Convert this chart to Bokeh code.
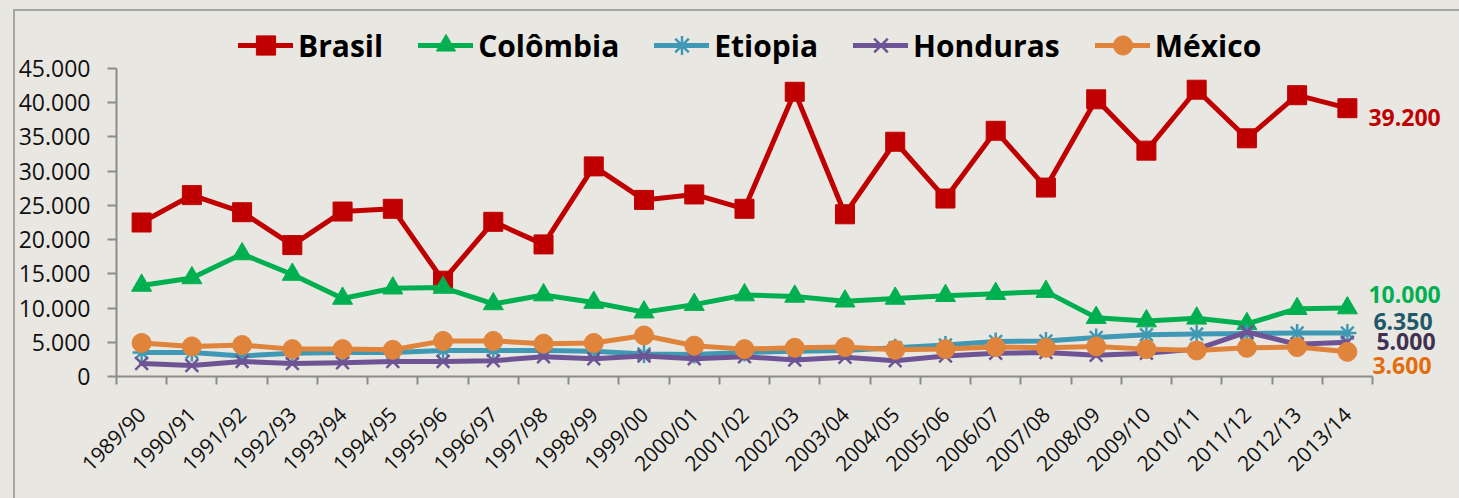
import math
from bokeh.plotting import figure
from bokeh.models import (ColumnDataSource, FixedTicker, Legend, LegendItem, Range1d,
                          LabelSet, GlobalInlineStyleSheet)
from bokeh.embed import file_html
from bokeh.resources import INLINE
from bokeh.core.properties import value

# ---------------- data ----------------
seasons = ["1989/90", "1990/91", "1991/92", "1992/93", "1993/94", "1994/95", "1995/96",
           "1996/97", "1997/98", "1998/99", "1999/00", "2000/01", "2001/02", "2002/03",
           "2003/04", "2004/05", "2005/06", "2006/07", "2007/08", "2008/09", "2009/10",
           "2010/11", "2011/12", "2012/13", "2013/14"]

brasil = [22500, 26500, 24000, 19200, 24100, 24500, 14000, 22600, 19300, 30700, 25800,
          26600, 24500, 41600, 23700, 34300, 26000, 35900, 27600, 40500, 33000, 41900,
          34800, 41100, 39200]
colombia = [13300, 14400, 17900, 14900, 11400, 12900, 13000, 10600, 11900, 10800, 9400,
            10500, 11900, 11700, 11000, 11400, 11800, 12100, 12400, 8600, 8100, 8500,
            7700, 9900, 10000]
etiopia = [3500, 3500, 3000, 3400, 3500, 3500, 3800, 3800, 3800, 3700, 3300, 3200, 3500,
           3700, 3800, 4200, 4600, 5100, 5200, 5700, 6100, 6200, 6300, 6350, 6350]
honduras = [1900, 1600, 2200, 1900, 2000, 2200, 2200, 2300, 2900, 2600, 3000, 2600, 2900,
            2400, 2800, 2300, 3000, 3400, 3500, 3100, 3400, 4000, 6500, 4700, 5000]
mexico = [4900, 4400, 4600, 4000, 4000, 3900, 5200, 5200, 4800, 4900, 6000, 4500, 4000,
          4200, 4300, 3900, 4000, 4300, 4200, 4400, 4000, 3800, 4200, 4300, 3600]

series_names = ["Brasil", "Colômbia", "Etiopia", "Honduras", "México"]
series_values = [brasil, colombia, etiopia, honduras, mexico]

y_ticks = [0, 5000, 10000, 15000, 20000, 25000, 30000, 35000, 40000, 45000]
y_tick_labels = ["0", "5.000", "10.000", "15.000", "20.000", "25.000", "30.000",
                 "35.000", "40.000", "45.000"]

# ---------------- styles ----------------
line_colors = ["#c00000", "#00b050", "#4099b4", "#6e5494", "#e0843c"]
markers = ["square", "triangle", "asterisk", "x", "circle"]
marker_sizes = [19, 20, 18, 18, 19]
label_colors = ["#c00000", "#00b050", "#215868", "#3f3151", "#e46c0a"]
label_xoff = [21, 21, 26, 29, 25]
label_yoff = [-9, 14, 12, 1, -14]

BG = "#e9e7e1"
AX = "#8c8c8c"
FONT = "Open Sans"

W, H = 1459, 498
AXIS_L, AXIS_R = 116, 1372      # axis extent in px
FRAME_R = 1455                  # frame continues right to hold end labels
FRAME_T = 12                    # frame continues up to hold the legend
AXIS_T, AXIS_B = 68, 376        # 45.000 and 0 in px

n = len(seasons)
xs = list(range(n))
y_axis_max = y_ticks[-1]
y_view_max = y_axis_max * (AXIS_B - FRAME_T) / (AXIS_B - AXIS_T)
x_view_max = -0.5 + n * (FRAME_R - AXIS_L) / (AXIS_R - AXIS_L)

p = figure(width=W, height=H, output_backend="svg", toolbar_location=None,
           x_range=Range1d(-0.5, x_view_max), y_range=Range1d(0, y_view_max),
           min_border_left=AXIS_L, min_border_right=W - FRAME_R, min_border_top=FRAME_T,
           min_border_bottom=H - AXIS_B)
p.background_fill_color = BG
p.border_fill_color = BG
p.outline_line_color = None
p.xgrid.visible = False
p.ygrid.visible = False

# y axis
p.yaxis.bounds = (0, y_axis_max)
p.yaxis.ticker = FixedTicker(ticks=y_ticks)
p.yaxis.major_label_overrides = {t: l for t, l in zip(y_ticks, y_tick_labels)}
p.yaxis.major_label_text_font = FONT
p.yaxis.major_label_text_font_size = "23px"
p.yaxis.major_label_text_color = "#111111"
p.yaxis.major_label_standoff = 17
p.yaxis.major_tick_out = 9
p.yaxis.major_tick_in = 0
p.yaxis.minor_tick_line_color = None
p.yaxis.axis_line_color = AX
p.yaxis.axis_line_width = 2
p.yaxis.major_tick_line_color = AX
p.yaxis.major_tick_line_width = 2

# x axis
p.xaxis.bounds = (-0.5, n - 0.5)
p.xaxis.ticker = FixedTicker(ticks=xs, minor_ticks=[i - 0.5 for i in range(n + 1)])
p.xaxis.major_label_overrides = {i: s for i, s in enumerate(seasons)}
p.xaxis.major_label_orientation = math.pi / 4
p.xaxis.major_label_text_font = FONT
p.xaxis.major_label_text_font_size = "21px"
p.xaxis.major_label_text_color = "#111111"
p.xaxis.major_label_standoff = 26
p.xaxis.major_tick_out = 0
p.xaxis.major_tick_in = 0
p.xaxis.minor_tick_out = 8
p.xaxis.minor_tick_in = 0
p.xaxis.minor_tick_line_color = AX
p.xaxis.minor_tick_line_width = 2
p.xaxis.axis_line_color = AX
p.xaxis.axis_line_width = 2

items = []
for name, vals, col, mk, ms in zip(series_names, series_values, line_colors, markers, marker_sizes):
    src = ColumnDataSource(dict(x=xs, y=vals))
    ln = p.line("x", "y", source=src, line_color=col, line_width=5,
                line_join="round", line_cap="round")
    if mk in ("asterisk", "x"):
        sc = p.scatter("x", "y", source=src, marker=mk, size=ms, line_color=col,
                       line_width=2.5, fill_color=col)
    else:
        sc = p.scatter("x", "y", source=src, marker=mk, size=ms, line_color=col,
                       fill_color=col, line_width=1)
    items.append(LegendItem(label=name, renderers=[ln, sc]))

legend = Legend(items=items, orientation="horizontal", location=(122, AXIS_B - 69),
                glyph_width=55, glyph_height=48, label_standoff=5, spacing=35,
                padding=0, margin=0, background_fill_alpha=0, border_line_alpha=0,
                label_text_font=FONT, label_text_font_size="30px",
                label_text_font_style="bold", label_text_color="#000000")
p.add_layout(legend)

# end-of-series data labels
last_vals = [v[-1] for v in series_values]
lab_src = ColumnDataSource(dict(
    x=[n - 1] * len(last_vals), y=last_vals,
    text=[f"{v:,}".replace(",", ".") for v in last_vals],
    color=label_colors, xo=label_xoff, yo=label_yoff))
labels = LabelSet(x="x", y="y", text="text", source=lab_src, x_offset="xo", y_offset="yo",
                  text_color="color", text_font=value(FONT), text_font_size="23px",
                  text_font_style="bold", text_align="left", text_baseline="middle")
p.add_layout(labels)

p.stylesheets = [GlobalInlineStyleSheet(css=(
    "body{background:%s;}"
    "body::before{content:'';position:fixed;left:13px;top:9px;width:3000px;height:3000px;"
    "border-top:2px solid #a6a6a6;border-left:2px solid #a6a6a6;z-index:1000;"
    "pointer-events:none;}" % BG))]

open("out.html", "w").write(file_html(p, INLINE))
